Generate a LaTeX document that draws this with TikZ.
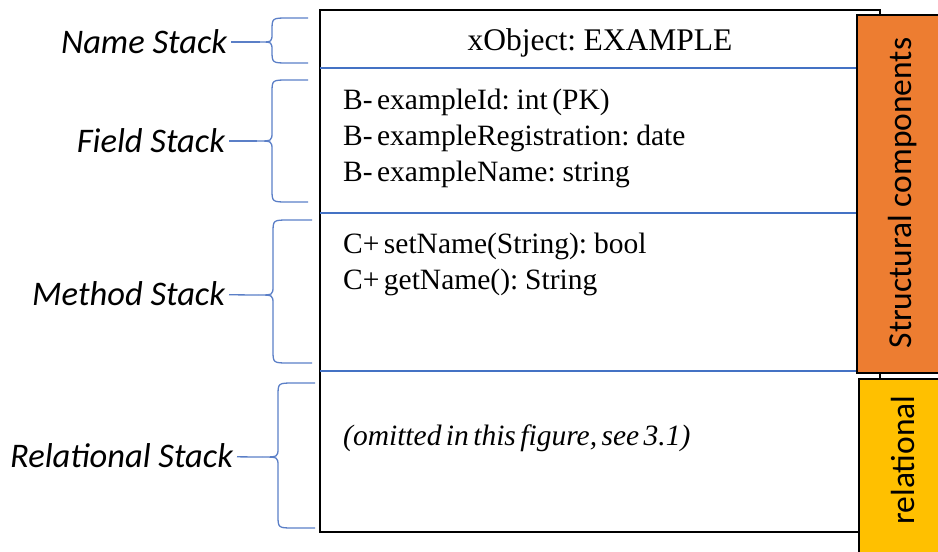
\documentclass[tikz,border=0pt]{standalone}
\usepackage{fontspec}
\setmainfont{Liberation Serif}[WordSpace=0.6]
\newfontfamily\calfont{Carlito}
\usetikzlibrary{positioning}
\definecolor{braceblue}{HTML}{5B7FC7}
\definecolor{lineblue}{HTML}{4472C4}
\definecolor{structorange}{HTML}{ED7D31}
\definecolor{relyellow}{HTML}{FFC000}
\tikzset{
  stacklabel/.style={anchor=east,inner sep=0pt,outer xsep=4pt,font=\calfont\itshape\fontsize{34.5}{40}\selectfont},
  stackbrace/.style={draw=braceblue,line width=1.3pt},
  entry/.style={anchor=west,inner sep=0pt,font=\fontsize{29.5}{34}\selectfont},
  divider/.style={draw=lineblue,line width=1.2pt},
  sidebar/.style={draw=black,line width=1.3pt},
  sidetext/.style={rotate=90,inner sep=0pt,font=\calfont\fontsize{33.5}{40}\selectfont}
}
\begin{document}
\begin{tikzpicture}[x=1pt,y=-1pt]
\useasboundingbox (0,0) rectangle (938,552);
% the object box
\draw[line width=2pt] (320,10) rectangle (880,532);
\draw[divider] (320,68) -- (880,68);
\draw[divider] (320,213) -- (880,213);
\draw[divider] (320,371) -- (880,371);
\node[font=\fontsize{31.5}{36}\selectfont] (title) at (600,43) {xObject: EXAMPLE};
\node[entry] (f1) at (343,102) {B- exampleId: int (PK)};
\node[entry] (f2) at (343,138) {B- exampleRegistration: date};
\node[entry] (f3) at (343,174) {B- exampleName: string};
\node[entry] (m1) at (343,246) {C+ setName(String): bool};
\node[entry] (m2) at (343,282) {C+ getName(): String};
\node[entry,font=\itshape\fontsize{29.5}{34}\selectfont] (omit) at (343,438) {(omitted in this figure, see 3.1)};
% side bars
\draw[sidebar,fill=structorange] (857,15) rectangle (945,373);
\draw[sidebar,fill=relyellow] (859,379) rectangle (945,560);
\node[sidetext] (structural) at (903,193) {Structural components};
\node[sidetext] (relational) at (903,460) {relational};
% stack labels
\node[stacklabel] (namelbl) at (231,42) {Name Stack};
\node[stacklabel] (fieldlbl) at (229,141) {Field Stack};
\node[stacklabel] (methodlbl) at (229,294) {Method Stack};
\node[stacklabel] (rellbl) at (237,456) {Relational Stack};
% braces: top, bottom, end x, spine x, tip x, tip y, name
\foreach \t/\b/\e/\v/\c/\m/\n in {18/63/308/272/260/42/name,80/202/308/272/257/141/field,220/363/312/273/258/295/method,383/528/315/278/262/457/rel}{
  \coordinate (\n tip) at (\c,\m);
  \draw[stackbrace] (\e,\t) -- (\v+16,\t) .. controls (\v,\t) .. (\v,\t+13)
    -- (\v,\m-9) .. controls (\v,\m) .. (\n tip) .. controls (\v,\m) .. (\v,\m+9)
    -- (\v,\b-13) .. controls (\v,\b) .. (\v+16,\b) -- (\e,\b);
}
\draw[stackbrace] (namelbl) -- (nametip);
\draw[stackbrace] (fieldlbl) -- (fieldtip);
\draw[stackbrace] (methodlbl) -- (methodtip);
\draw[stackbrace] (rellbl) -- (reltip);
\end{tikzpicture}
\end{document}
